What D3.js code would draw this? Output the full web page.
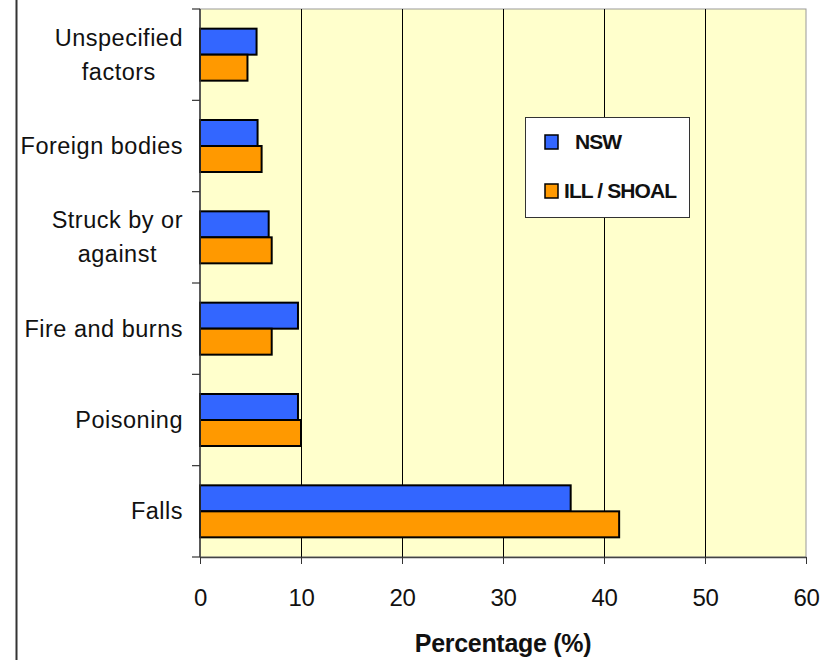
<!DOCTYPE html>
<html>
<head>
<meta charset="utf-8">
<script src="https://cdn.jsdelivr.net/npm/d3@7"></script>
<style>
  html, body { margin: 0; padding: 0; background: #ffffff; }
  svg { display: block; font-family: "Liberation Sans", Arial, sans-serif; }
</style>
</head>
<body>
<svg id="chart" width="837" height="660"></svg>
<script>
// Injury causes, listed bottom to top as in the chart
const categories = [
  ["Falls"],
  ["Poisoning"],
  ["Fire and burns"],
  ["Struck by or", "against"],
  ["Foreign bodies"],
  ["Unspecified", "factors"]
];
const seriesNames = ["NSW", "ILL / SHOAL"];
const nswValues = [36.7, 9.7, 9.7, 6.8, 5.7, 5.6];
const illValues = [41.5, 10.0, 7.1, 7.1, 6.1, 4.7];
const xTicks = [0, 10, 20, 30, 40, 50, 60];
const colors = ["#3366FF", "#FF9900"];

const svg = d3.select("#chart");
const plot = { left: 200, right: 806, top: 9, bottom: 557 };

const x = d3.scaleLinear().domain([0, 60]).range([plot.left, plot.right]);
const catKeys = categories.map((c, i) => i);
// category bands run from the bottom up
const y = d3.scaleBand().domain(catKeys).range([plot.bottom, plot.top]).paddingInner(0).paddingOuter(0);

// outer frame line on the left
svg.append("line")
  .attr("x1", 16.5).attr("x2", 16.5).attr("y1", 0).attr("y2", 660)
  .attr("stroke", "#333").attr("stroke-width", 2);

// plot background
svg.append("rect")
  .attr("x", plot.left).attr("y", plot.top)
  .attr("width", plot.right - plot.left).attr("height", plot.bottom - plot.top)
  .attr("fill", "#FFFFCC").attr("stroke", "#999").attr("stroke-width", 1);

// vertical gridlines
svg.append("g").selectAll("line")
  .data(xTicks.filter(t => t > 0 && t < 60))
  .join("line")
  .attr("x1", d => Math.round(x(d)) + 0.5).attr("x2", d => Math.round(x(d)) + 0.5)
  .attr("y1", plot.top).attr("y2", plot.bottom)
  .attr("stroke", "#000").attr("stroke-width", 1);

// bars: two series side by side within each band
const barH = 26;
const pairOffset = (y.bandwidth() - 2 * barH) / 2;
const rows = categories.map((c, i) => ({ i, values: [nswValues[i], illValues[i]] }));
const gRows = svg.append("g").selectAll("g").data(rows).join("g")
  .attr("transform", d => `translate(0,${y(d.i)})`);
gRows.selectAll("rect")
  .data(d => d.values.map((v, s) => ({ v, s })))
  .join("rect")
  .attr("x", x(0))
  .attr("y", d => pairOffset + d.s * barH)
  .attr("width", d => x(d.v) - x(0))
  .attr("height", barH)
  .attr("fill", d => colors[d.s])
  .attr("stroke", "#000").attr("stroke-width", 2);

// x axis
const xAxis = d3.axisBottom(x).tickValues(xTicks).tickSize(7).tickPadding(25).tickSizeOuter(0);
const gx = svg.append("g").attr("transform", `translate(0,${plot.bottom})`).call(xAxis);
gx.select(".domain").attr("stroke", "#444").attr("stroke-width", 1.5);
gx.selectAll(".tick line").attr("stroke", "#333");
gx.selectAll("text").attr("font-size", 24).attr("fill", "#111")
  .attr("font-family", "Liberation Sans, Arial, sans-serif").attr("letter-spacing", "-0.3");

// y axis with ticks on category boundaries
svg.append("line")
  .attr("x1", plot.left).attr("x2", plot.left).attr("y1", plot.top).attr("y2", plot.bottom)
  .attr("stroke", "#333").attr("stroke-width", 1.5);
const bounds = catKeys.map(k => y(k)).concat([plot.bottom]);
svg.append("g").selectAll("line").data(bounds).join("line")
  .attr("x1", plot.left - 8).attr("x2", plot.left)
  .attr("y1", d => d).attr("y2", d => d)
  .attr("stroke", "#333").attr("stroke-width", 1.2);

// category labels: each block right-aligned, lines centred within the block
const labelRight = 183;
const lh = 34;
const labels = svg.append("g").selectAll("text").data(rows).join("text")
  .attr("y", d => y(d.i) + y.bandwidth() / 2)
  .attr("text-anchor", "middle")
  .attr("font-size", 23.5)
  .attr("letter-spacing", "0.5")
  .attr("fill", "#111");
labels.each(function(d) {
  const lines = categories[d.i];
  const n = lines.length;
  const t = d3.select(this);
  const spans = t.selectAll("tspan").data(lines).join("tspan")
    .attr("dy", (l, j) => j === 0 ? (-(n - 1) * lh / 2 + 8) : lh)
    .text(l => l);
  const maxW = d3.max(spans.nodes(), s => s.getComputedTextLength());
  spans.attr("x", labelRight - maxW / 2);
});

// x axis title
svg.append("text")
  .attr("x", 503).attr("y", 652)
  .attr("text-anchor", "middle")
  .attr("font-size", 25).attr("font-weight", "bold")
  .attr("letter-spacing", "-0.3")
  .attr("fill", "#111")
  .text("Percentage (%)");

// legend
const legend = svg.append("g");
legend.append("rect")
  .attr("x", 525.5).attr("y", 117.5).attr("width", 164).attr("height", 100)
  .attr("fill", "#fff").attr("stroke", "#333").attr("stroke-width", 1);
const legendItems = [
  { name: seriesNames[0], color: colors[0], y: 142, tx: 575 },
  { name: seriesNames[1], color: colors[1], y: 191, tx: 564 }
];
legend.selectAll("rect.sw").data(legendItems).join("rect")
  .attr("class", "sw")
  .attr("x", 545).attr("y", d => d.y - 7).attr("width", 13).attr("height", 14)
  .attr("fill", d => d.color).attr("stroke", "#000").attr("stroke-width", 1.5);
legend.selectAll("text").data(legendItems).join("text")
  .attr("x", d => d.tx).attr("y", d => d.y + 7)
  .attr("font-size", 21).attr("font-weight", "bold")
  .attr("letter-spacing", "-0.9")
  .attr("fill", "#111")
  .text(d => d.name);
</script>
</body>
</html>
